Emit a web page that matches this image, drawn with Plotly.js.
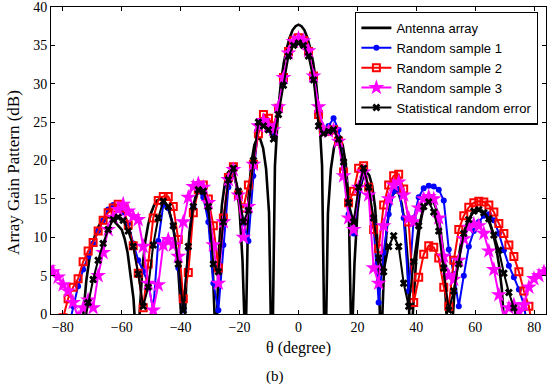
<!DOCTYPE html>
<html>
<head>
<meta charset="utf-8">
<script src="https://cdn.plot.ly/plotly-3.0.1.min.js"></script>
<style>html,body{margin:0;padding:0;background:#fff;}#chart{width:550px;height:389px;}</style>
</head>
<body>
<div id="chart"></div>
<script>
// Angle grid of the sampled curves (degrees)
const theta = [-85.0,-83.3,-81.6,-79.9,-78.2,-76.5,-74.8,-73.1,-71.4,-69.7,
  -68.0,-66.3,-64.6,-62.9,-61.2,-59.5,-57.8,-56.1,-54.4,-52.7,
  -51.0,-49.3,-47.6,-45.9,-44.2,-42.5,-40.8,-39.1,-37.4,-35.7,
  -34.0,-32.3,-30.6,-28.9,-27.2,-25.5,-23.8,-22.1,-20.4,-18.7,
  -17.0,-15.3,-13.6,-11.9,-10.2,-8.5,-6.8,-5.1,-3.4,-1.7,
  0,
  1.7,3.4,5.1,6.8,8.5,10.2,11.9,13.6,15.3,17.0,
  18.7,20.4,22.1,23.8,25.5,27.2,28.9,30.6,32.3,34.0,
  35.7,37.4,39.1,40.8,42.5,44.2,45.9,47.6,49.3,51.0,
  52.7,54.4,56.1,57.8,59.5,61.2,62.9,64.6,66.3,68.0,
  69.7,71.4,73.1,74.8,76.5,78.2,79.9,81.6,83.3,85.0];

// Angle grid of the ideal antenna array pattern (degrees)
const thetaArray = [-85,-84,-83,-82,-81,-80,-79,-78,-77,-76,-75,-74,-73,-72,-71,-70,-69,-68,-67,-66,
  -65,-64,-63,-62,-61,-60,-59,-58,-57,-56,-55,-54,-53,-52,-51,-50,-49,-48,-47,-46,
  -45,-44,-43,-42,-41,-40,-39,-38,-37,-36,-35,-34,-33,-32,-31,-30,-29,-28,-27,-26,
  -25,-24,-23,-22,-21,-20,-19,-18,-17,-16,-15,-14,-13,-12,-11,-10,-9,-8,-7,-6,
  -5,-4,-3,-2,-1,0,1,2,3,4,5,6,7,8,9,10,11,12,13,14,
  15,16,17,18,19,20,21,22,23,24,25,26,27,28,29,30,31,32,33,34,
  35,36,37,38,39,40,41,42,43,44,45,46,47,48,49,50,51,52,53,54,
  55,56,57,58,59,60,61,62,63,64,65,66,67,68,69,70,71,72,73,74,
  75,76,77,78,79,80,81,82,83,84,85];

// Antenna array gain (dB)
const antennaArray = [-5,-5,-5,-5,-5,-5,-5,-5,-5,-5,-5,-5,
  0.1,4.4,7.1,9.0,10.3,11.3,12.0,12.4,12.6,12.6,12.3,11.9,11.5,11.0,9.8,8.0,5.0,2.0,-4,
  -0.5,5.9,9.5,11.7,13.2,14.2,14.8,15.0,14.9,14.4,13.5,12.1,10.0,6.8,1.0,-5,
  5.0,10.7,13.6,15.2,15.9,15.9,15.2,13.6,10.7,5.0,-5,
  8.4,14.2,17.0,18.4,18.8,18.3,16.7,13.6,6.9,-5,
  15.0,19.7,22.0,22.9,22.8,21.6,18.9,13.2,-10,
  19.3,26.0,30.0,32.7,34.6,36.0,37.0,37.5,
  37.7,
  37.5,37.0,36.0,34.6,32.7,30.0,26.0,19.3,
  -10,
  13.2,18.9,21.6,22.8,22.9,22.0,19.7,15.0,
  -5,
  6.6,13.3,16.4,18.0,18.5,18.1,16.7,13.9,8.1,
  -5,
  5.6,11.3,14.1,15.5,16.0,15.7,14.4,12.0,7.2,
  -5,
  0.8,7.6,11.1,13.1,14.3,14.9,15.0,14.5,13.4,11.5,8.5,2.7,
  -5,
  -2.6,3.3,6.5,8.9,10.5,11.7,12.5,13.1,13.4,13.5,13.4,13.1,12.5,11.7,10.5,8.9,6.5,3.3,-2.6,
  -8,-5,-5,-5,-5,-5,-5,-5,-5,-5,-5,-5,-5,-5,-5];

// Random sample 1 (dB)
const sample1 = [-5,-5,-5,-5,-2,1.0,3.6,5.8,7.5,9.2,
  10.8,12.2,13.6,14.2,14.0,13.3,11.8,9.2,7.0,5.6,
  4.0,0.5,9.5,14.2,13.8,11.5,6.0,0.5,8.5,14.0,
  16.0,15.2,12.0,4.0,0.5,9.0,16.5,18.5,16.0,12.0,
  9.5,18.0,24.5,25.0,24.0,23.5,26.5,30.5,34.0,35.5,
  35.8,
  35.5,34.0,31.0,26.5,24.0,24.5,25.5,24.0,19.0,13.0,
  10.5,16.0,18.5,16.5,11.5,1.5,8.0,13.0,16.0,16.3,
  12.5,3.0,12.5,15.2,16.4,16.7,16.6,16.2,14.8,8.4,
  5.2,1.0,5.0,8.8,10.8,12.0,12.8,13.0,12.2,10.5,
  8.3,6.3,4.8,3.2,1.2,-3,-5,-5,-5,-5];

// Random sample 2 (dB)
const sample2 = [-5,-5,-3,-0.5,2.0,3.5,4.6,6.8,8.2,9.3,
  10.8,12.2,13.2,13.8,14.3,13.8,11.6,8.9,5.3,0.8,
  6.5,12.5,14.8,15.3,15.3,14.0,9.7,2.0,5.4,13.2,
  16.2,16.8,15.0,11.5,6.0,12.5,17.8,19.2,15.5,13.8,
  16.8,19.5,23.5,26.0,25.5,24.5,26.8,30.8,34.2,35.6,
  36.0,
  35.6,34.2,31.0,26.0,23.8,23.8,24.0,22.5,18.5,14.5,
  16.0,19.0,19.3,16.5,11.0,8.5,14.2,16.8,18.0,18.2,
  16.3,12.0,1.5,4.8,7.8,8.9,8.7,7.3,3.5,1.0,
  7.0,11.0,12.8,13.9,14.5,14.7,14.6,14.2,13.3,11.8,
  10.5,9.0,7.5,5.5,3.0,1.0,-3,-5,-5,-5];

// Random sample 3 (dB)
const sample3 = [6.0,5.5,4.8,3.8,3.0,1.5,-0.5,0.8,1.8,0.8,
  5.0,8.0,11.0,12.6,13.6,14.3,13.4,12.7,12.3,8.8,
  4.0,0.5,3.8,9.0,9.7,9.0,7.5,12.0,15.2,16.6,
  17.0,16.5,14.5,9.0,4.0,12.0,17.5,18.8,15.5,10.0,
  14.0,19.5,24.5,25.2,24.5,24.0,27.0,30.8,34.0,35.5,
  35.9,
  35.6,34.3,31.0,27.0,24.0,23.8,24.0,22.5,18.0,12.5,
  11.0,16.5,18.5,15.5,6.0,4.0,11.5,15.0,16.8,17.2,
  15.5,12.5,12.0,13.8,15.0,15.3,15.0,12.5,7.5,5.0,
  4.5,7.0,9.8,11.3,11.7,11.5,10.5,8.2,5.8,2.5,
  -0.5,0.8,1.2,0.3,1.2,3.5,4.6,5.0,5.5,5.8];

// Statistical random error (dB)
const statistical = [-5,-5,-5,-5,-5,-5,-5,-2,1.5,4.5,
  7.0,9.2,11.0,12.3,12.6,12.2,10.8,8.8,5.2,1.0,
  3.5,9.0,12.5,14.7,14.0,11.5,6.5,0.5,8.8,14.0,
  16.2,16.0,14.0,6.5,5.5,12.0,17.5,19.0,16.0,12.0,
  13.5,20.0,25.0,24.5,24.0,22.8,26.0,29.8,33.6,35.0,
  35.3,
  35.0,33.6,30.5,24.5,23.5,23.8,24.0,22.8,19.8,14.5,
  12.0,16.5,19.0,16.5,12.5,7.3,5.5,8.8,10.2,8.8,
  4.0,1.0,6.8,11.5,14.0,14.6,13.3,10.8,6.0,0.5,
  3.0,6.5,10.5,12.3,13.4,13.6,13.2,12.4,10.3,8.3,
  5.3,2.8,0.8,-2,-5,-5,-5,-5,-5,-5];

const seriesNames = ['Antenna array','Random sample 1','Random sample 2','Random sample 3','Statistical random error'];
const xTicks = [-80,-60,-40,-20,0,20,40,60,80];
const yTicks = [0,5,10,15,20,25,30,35,40];
const xTitle = 'θ (degree)';
const yTitle = 'Array Gain Pattern (dB)';
const caption = '(b)';

const serif = 'Liberation Serif, Times New Roman, serif';
const sans = 'Liberation Sans, Arial, sans-serif';

const traces = [
  {x: thetaArray, y: antennaArray, name: seriesNames[0], type: 'scatter', mode: 'lines',
   line: {color: '#000000', width: 2.6}},
  {x: theta, y: sample1, name: seriesNames[1], type: 'scatter', mode: 'lines+markers',
   line: {color: '#0000FF', width: 2}, marker: {symbol: 'circle', size: 6, color: '#0000FF'}},
  {x: theta, y: sample2, name: seriesNames[2], type: 'scatter', mode: 'lines+markers',
   line: {color: '#FF0000', width: 2}, marker: {symbol: 'square-open', size: 7, color: '#FF0000', line: {width: 2, color: '#FF0000'}}},
  {x: theta, y: sample3, name: seriesNames[3], type: 'scatter', mode: 'lines+markers',
   line: {color: '#FF00FF', width: 2}, marker: {symbol: 'star', size: 12, color: '#FF00FF'}},
  {x: theta, y: statistical, name: seriesNames[4], type: 'scatter', mode: 'lines+markers',
   line: {color: '#000000', width: 2}, marker: {symbol: 'x', size: 7, color: '#000000'}}
];

const axisCommon = {
  showgrid: false, zeroline: false, showline: true, linecolor: '#000', linewidth: 1,
  mirror: 'ticks', ticks: 'inside', ticklen: 4, tickcolor: '#000', tickwidth: 1,
  ticklabeloverflow: 'allow',
  tickfont: {family: serif, size: 14, color: '#000'}
};

const layout = {
  width: 550, height: 389,
  margin: {l: 51, r: 4, t: 7, b: 75},
  paper_bgcolor: '#fff', plot_bgcolor: '#fff',
  showlegend: true,
  xaxis: Object.assign({}, axisCommon, {
    range: [-84, 84], tickmode: 'array', tickvals: xTicks,
    title: {text: xTitle, font: {family: serif, size: 16, color: '#000'}, standoff: 8}
  }),
  yaxis: Object.assign({}, axisCommon, {
    range: [0, 40], tickmode: 'array', tickvals: yTicks
  }),
  legend: {
    x: 0.984, xanchor: 'right', y: 0.985, yanchor: 'top',
    bgcolor: '#fff', bordercolor: '#000', borderwidth: 1.3,
    font: {family: sans, size: 13, color: '#000'}, tracegroupgap: 0, itemwidth: 30
  },
  annotations: [
    {text: yTitle, xref: 'paper', yref: 'paper', x: -0.077, y: 0.4625, textangle: -90,
     xanchor: 'center', yanchor: 'middle', showarrow: false,
     font: {family: serif, size: 17, color: '#000'}},
    {text: caption, xref: 'paper', yref: 'paper', x: 0.4525, y: -0.202,
     xanchor: 'center', yanchor: 'middle', showarrow: false,
     font: {family: serif, size: 15, color: '#000'}}
  ]
};

Plotly.newPlot('chart', traces, layout, {displayModeBar: false, staticPlot: true});
</script>
</body>
</html>
